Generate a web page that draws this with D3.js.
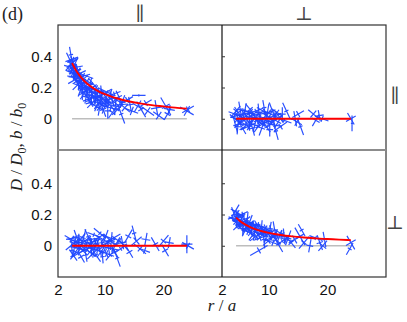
<!DOCTYPE html>
<html><head><meta charset="utf-8">
<script src="https://cdn.jsdelivr.net/npm/d3@7"></script>
<style>html,body{margin:0;padding:0;background:#fff;}svg{display:block;}</style>
</head><body>
<svg id="c" width="407" height="322"></svg>
<script>
// ---- data ----
const xTicks = [2, 10, 20];
const yTicks = [0, 0.2, 0.4];
const colLabels = ["\u2225", "\u22A5"];
const rowLabels = ["\u2225", "\u22A5"];
const fitR  = [4.4, 5, 6, 7, 8, 9, 10, 11, 12, 14, 16, 18, 20, 22, 24];
const fitPP = [0.357,0.314,0.262,0.224,0.196,0.174,0.157,0.143,0.131,0.112,0.098,0.087,0.079,0.071,0.065];
const fitPT = [0,0,0,0,0,0,0,0,0,0,0,0,0,0,0];
const fitTP = [0,0,0,0,0,0,0,0,0,0,0,0,0,0,0];
const fitTT = [0.180,0.160,0.135,0.116,0.102,0.091,0.082,0.075,0.069,0.060,0.053,0.047,0.043,0.039,0.036];
// [r, value, angle(deg), half-length 1, half-length 2]
const ptsPP = [
[4.1,0.37,65,8,3],[4.15,0.33,15,6,2],[4.2,0.41,80,7,2],[4.25,0.35,130,7,4],[4.3,0.30,45,6,3],[4.35,0.38,160,6,3],[4.4,0.34,100,8,2],[4.5,0.29,25,7,3],[4.55,0.36,140,6,4],[4.6,0.32,70,7,2],[4.7,0.27,5,6,3],[4.75,0.34,115,8,3],[4.8,0.30,50,6,2],[4.9,0.25,150,7,3],[5.0,0.31,85,6,4],[5.05,0.28,30,8,2],[5.1,0.33,170,6,3],
[5.2,0.24,60,7,3],[5.25,0.29,120,6,2],[5.3,0.26,10,8,3],[5.4,0.31,75,6,3],[5.45,0.22,135,7,2],[5.5,0.27,40,6,4],[5.6,0.24,95,8,3],[5.7,0.29,155,6,2],[5.75,0.21,20,7,3],[5.8,0.25,65,6,3],[5.9,0.19,110,7,2],[6.0,0.27,165,8,3],
[6.1,0.22,35,6,3],[6.15,0.17,90,7,2],[6.2,0.25,140,6,4],[6.3,0.20,55,8,3],[6.4,0.28,20,9,2],[6.45,0.16,125,6,3],[6.5,0.23,75,7,3],[6.6,0.19,170,6,2],[6.7,0.21,45,7,4],[6.8,0.14,100,6,3],[6.9,0.18,150,8,2],[7.0,0.24,30,6,3],
[7.1,0.15,80,7,3],[7.2,0.20,130,6,2],[7.3,0.12,60,7,3],[7.35,0.17,10,8,3],[7.45,0.22,105,6,2],[7.5,0.13,160,7,4],[7.6,0.18,40,6,3],[7.7,0.15,90,8,2],[7.8,0.10,135,6,3],[7.9,0.19,25,7,3],[8.0,0.14,70,6,2],
[8.1,0.17,120,7,3],[8.2,0.11,165,8,2],[8.3,0.21,50,9,2],[8.4,0.13,95,6,3],[8.5,0.08,30,7,3],[8.6,0.16,145,6,4],[8.7,0.12,75,7,2],[8.8,0.18,15,6,3],[8.9,0.10,115,8,3],[9.0,0.14,55,6,2],
[9.1,0.07,100,7,3],[9.2,0.15,160,6,3],[9.3,0.11,35,8,2],[9.4,0.17,85,6,3],[9.5,0.09,130,7,4],[9.6,0.13,20,6,2],[9.7,0.06,70,7,3],[9.8,0.16,150,8,2],[9.9,0.12,45,6,3],[10.0,0.08,110,7,3],
[10.1,0.14,60,7,2],[10.2,0.10,170,6,3],[10.4,0.17,25,8,2],[10.5,0.05,90,7,3],[10.6,0.12,140,6,4],[10.8,0.09,50,7,2],[10.9,0.15,105,6,3],[11.0,0.07,15,8,3],
[11.2,0.13,75,7,2],[11.3,0.04,125,6,3],[11.5,0.11,40,7,3],[11.6,0.16,160,6,2],[11.8,0.08,95,8,3],[12.0,0.12,30,6,3],[12.2,0.06,135,7,2],[12.4,0.14,65,6,3],[12.6,0.09,175,7,3],[12.8,0.03,70,9,2],[13.0,0.11,110,6,3],
[13.4,0.07,40,6,4],[13.8,0.12,150,6,3],[14.3,0.09,80,7,3],[14.6,0.05,20,6,4],[15.8,0.15,0,6,1],[15.6,0.08,120,6,5],[16.2,0.06,60,8,3],[17.0,0.10,150,6,3],[17.3,0.05,35,7,4],[18.8,0.07,80,7,5],[19.2,0.02,35,6,4],[20.4,0.08,60,9,4],[20.7,0.03,120,6,3],[21.0,0.06,10,5,4],[24.0,0.05,30,7,5],[24.2,0.06,150,6,3]
];
const ptsPT = [
[4.2,0.03,20,6,3],[4.3,-0.04,75,7,2],[4.4,0.05,130,6,3],[4.5,-0.01,40,8,3],[4.6,0.02,165,6,2],[4.7,-0.05,95,7,3],[4.8,0.04,55,6,4],[4.9,0.00,10,8,3],[5.0,-0.03,140,6,2],[5.1,0.06,80,7,3],[5.2,-0.02,30,6,3],[5.35,0.01,115,8,2],[5.5,-0.06,60,6,3],[5.6,0.03,170,7,3],[5.75,-0.01,45,6,2],[5.9,0.05,100,7,4],[6.0,-0.04,15,6,3],[6.15,0.02,135,8,2],[6.3,0.00,70,6,3],[6.4,-0.05,155,7,3],[6.55,0.04,25,6,2],[6.7,-0.02,90,8,3],[6.8,0.06,50,6,3],[6.95,-0.03,120,7,2],[7.1,0.01,5,6,4],[7.2,-0.06,75,7,3],[7.35,0.03,145,6,2],[7.5,0.00,35,8,3],[7.6,-0.04,105,6,3],[7.75,0.05,160,7,2],[7.9,-0.01,60,6,3],[8.0,0.02,20,7,3],[8.15,-0.05,125,6,2],[8.3,0.04,85,8,3],[8.4,-0.02,40,6,3],[8.55,0.03,170,7,2],[8.7,0.00,65,6,4],[8.8,-0.06,110,7,3],[8.95,0.05,30,6,2],[9.1,-0.03,150,8,3],[9.2,0.07,80,7,2],[9.35,-0.01,15,6,3],[9.5,0.02,130,7,3],[9.6,-0.05,55,6,2],[9.75,0.04,100,8,3],[9.9,-0.02,165,6,3],[10.0,0.01,45,7,2],[10.15,-0.07,90,6,3],[10.3,0.03,25,7,3],[10.45,-0.03,140,6,2],[10.6,0.05,70,8,3],[10.75,0.00,115,6,3],[10.9,-0.04,10,7,2],[11.05,0.02,160,6,4],[11.2,-0.08,75,8,2],[11.4,0.04,35,6,3],[11.6,-0.02,120,7,3],[11.8,0.01,55,6,2],[12.0,-0.05,145,7,3],[12.3,0.03,90,6,3],[12.6,-0.01,20,7,2],[13.0,0.05,65,8,2],
[14.5,0.0,80,7,4],[15.0,0.03,150,6,3],[15.4,-0.05,70,8,2],[14.8,-0.02,30,5,4],[17.6,0.03,40,6,4],[18.0,-0.01,120,6,4],[18.6,0.02,80,5,4],[19.1,0.00,20,6,3],[24.0,0.00,60,6,5],[24.2,-0.03,90,7,1]
];
const ptsTP = [
[4.3,0.04,30,7,3],[4.4,-0.03,85,6,2],[4.5,0.01,140,8,3],[4.6,-0.06,55,6,3],[4.7,0.05,170,7,2],[4.8,-0.01,100,6,4],[4.9,0.03,15,7,3],[5.0,-0.04,125,8,2],[5.15,0.06,70,6,3],[5.3,0.00,35,7,3],[5.4,-0.05,150,6,2],[5.55,0.02,90,8,3],[5.7,-0.02,20,6,3],[5.8,0.04,130,7,2],[5.95,-0.07,60,6,3],[6.1,0.01,165,7,4],[6.2,-0.03,45,6,3],[6.35,0.05,105,8,2],[6.5,-0.01,10,6,3],[6.6,0.03,140,7,3],[6.75,-0.06,80,6,2],[6.9,0.02,25,8,3],[7.0,-0.02,155,6,3],[7.15,0.06,65,7,2],[7.3,0.00,115,6,3],[7.4,-0.04,35,7,3],[7.55,0.04,170,6,2],[7.7,-0.01,90,8,3],[7.8,0.02,50,6,4],[7.95,-0.05,135,7,3],[8.1,0.07,20,6,2],[8.2,-0.02,100,8,3],[8.35,0.03,160,6,3],[8.5,-0.06,55,7,2],[8.6,0.01,115,6,3],[8.75,-0.03,15,7,3],[8.9,0.05,145,6,2],[9.0,-0.01,75,8,3],[9.15,0.08,40,7,2],[9.3,-0.04,125,6,3],[9.45,0.02,170,7,3],[9.6,-0.07,85,6,2],[9.7,0.04,30,8,3],[9.85,0.00,140,6,3],[10.0,-0.03,65,7,2],[10.15,0.06,110,6,4],[10.3,-0.05,20,7,3],[10.45,0.02,155,8,2],[10.6,-0.01,80,6,3],[10.75,0.04,45,7,3],[10.9,-0.06,130,6,2],[11.1,0.03,95,8,3],[11.3,-0.02,10,6,3],[11.5,0.05,150,7,2],[11.7,-0.04,60,6,3],[11.9,0.01,120,7,3],[12.1,-0.08,70,8,2],[12.4,0.03,35,6,3],[12.7,-0.02,145,7,2],[13.0,0.02,80,6,4],
[13.3,0.00,50,6,3],[14.0,0.06,120,7,3],[14.2,-0.04,60,6,3],[15.0,0.08,75,7,2],[15.4,0.03,140,6,4],[16.0,-0.02,40,7,3],[17.0,0.04,100,6,4],[16.8,-0.03,20,5,3],[18.6,0.01,60,7,3],[20.0,0.03,130,7,3],[20.3,-0.03,60,6,3],[21.0,0.02,100,5,4],[24.0,0.01,90,8,5],[24.2,0.0,30,6,3]
];
const ptsTT = [
[4.1,0.20,70,7,3],[4.2,0.17,20,6,2],[4.25,0.22,120,7,3],[4.35,0.15,45,6,3],[4.45,0.19,160,8,2],[4.55,0.16,95,6,4],[4.65,0.21,30,7,3],[4.75,0.13,135,6,2],[4.85,0.18,75,7,3],[4.95,0.15,10,6,3],[5.05,0.19,150,8,2],
[5.15,0.12,55,6,3],[5.25,0.16,105,7,3],[5.35,0.14,170,6,2],[5.45,0.18,40,7,4],[5.55,0.11,90,6,3],[5.65,0.15,140,8,2],[5.75,0.13,25,6,3],[5.85,0.17,70,7,3],[5.95,0.10,115,6,2],
[6.05,0.14,165,7,3],[6.15,0.12,50,6,3],[6.3,0.16,95,8,2],[6.4,0.09,15,6,3],[6.5,0.13,140,7,3],[6.6,0.11,65,6,2],[6.7,0.15,110,7,4],[6.8,0.08,35,6,3],[6.9,0.12,160,8,2],
[7.0,0.10,80,6,3],[7.1,0.14,20,7,3],[7.25,0.07,125,6,2],[7.35,0.11,55,7,3],[7.45,0.13,170,6,3],[7.6,0.09,100,8,2],[7.7,0.12,40,6,3],[7.85,0.06,145,7,3],[7.95,0.10,75,6,2],
[8.1,0.13,15,7,3],[8.2,0.08,115,6,4],[8.3,-0.03,150,9,3],[8.35,0.11,60,8,2],[8.5,0.05,160,6,3],[8.6,0.09,30,7,3],[8.75,0.12,95,6,2],[8.9,0.07,135,7,3],[9.0,0.10,50,6,3],[9.15,0.04,85,8,2],[9.3,0.08,170,6,3],[9.45,0.11,25,7,3],[9.6,0.06,110,6,2],[9.75,0.09,65,7,3],[9.9,0.03,140,6,3],
[10.05,0.08,35,8,2],[10.2,0.11,100,6,3],[10.35,0.05,155,7,3],[10.5,0.09,70,6,2],[10.7,0.02,20,7,3],[10.85,0.07,125,6,3],[11.0,0.10,80,8,2],[11.2,0.04,45,6,3],[11.4,0.07,165,7,3],[11.6,0.01,60,8,2],[11.8,0.06,110,6,3],[12.0,0.08,30,7,3],[12.3,0.03,145,6,2],[12.6,0.06,85,7,3],[12.9,0.04,15,6,3],
[13.3,0.05,110,7,3],[13.8,0.02,50,6,3],[14.4,0.04,150,6,4],[15.3,0.06,60,9,4],[15.6,0.10,60,6,2],[16.0,0.02,130,7,3],[17.0,0.0,100,6,3],[18.0,0.05,20,6,2],[18.7,0.02,70,7,3],[19.2,0.0,130,6,4],[19.5,0.04,80,7,3],[24.0,0.02,60,7,5],[23.8,-0.02,120,6,2]
];

// ---- layout ----
const svg = d3.select("#c");
const L = 58, M = 222, R = 386, T = 25, H = 150, B = 277;
const xs = [d3.scaleLinear().domain([2, 30]).range([L, M]),
            d3.scaleLinear().domain([2, 30]).range([M, R])];
const ys = [d3.scaleLinear().domain([-0.2, 0.6]).range([H, T]),
            d3.scaleLinear().domain([-0.2, 0.6]).range([B, H + 2])];

const panels = [
  {row:0, col:0, pts:ptsPP, fit:fitPP},
  {row:0, col:1, pts:ptsPT, fit:fitPT},
  {row:1, col:0, pts:ptsTP, fit:fitTP},
  {row:1, col:1, pts:ptsTT, fit:fitTT}
];

const blue = "#2048ff";
const k = 1.12;
panels.forEach(p => {
  const x = xs[p.col], y = ys[p.row];
  const g = svg.append("g");
  g.append("line").attr("x1", x(4.4)).attr("x2", x(24)).attr("y1", y(0)).attr("y2", y(0))
    .attr("stroke", "#bdbdbd").attr("stroke-width", 1.6);
  g.selectAll("path.m").data(p.pts).join("path").attr("class", "m")
    .attr("d", d => {
      const cx = x(d[0]), cy = y(d[1]);
      const a = d[2] * Math.PI / 180, b = a + Math.PI / 2;
      const h1 = d[3] * k, h2 = d[4] * k;
      const c1 = Math.cos(a), s1 = Math.sin(a), c2 = Math.cos(b), s2 = Math.sin(b);
      return `M${cx - h1*c1},${cy - h1*s1}L${cx + h1*c1},${cy + h1*s1}` +
             `M${cx - h2*c2},${cy - h2*s2}L${cx + h2*c2},${cy + h2*s2}`;
    })
    .attr("stroke", blue).attr("stroke-width", 1.2).attr("stroke-opacity", 0.95).attr("fill", "none");
  const line = d3.line().x((d, i) => x(fitR[i])).y(d => y(d)).curve(d3.curveMonotoneX);
  g.append("path").attr("d", line(p.fit)).attr("fill", "none")
    .attr("stroke", "#ff0000").attr("stroke-width", 1.9);
});

// frame
svg.append("rect").attr("x", L).attr("y", T).attr("width", R - L).attr("height", B - T)
  .attr("fill", "none").attr("stroke", "#333").attr("stroke-width", 1.2);
svg.append("line").attr("x1", L).attr("x2", R).attr("y1", H).attr("y2", H)
  .attr("stroke", "#8c8c8c").attr("stroke-width", 1.8);
svg.append("line").attr("x1", M).attr("x2", M).attr("y1", T).attr("y2", B)
  .attr("stroke", "#111").attr("stroke-width", 1.2);

// axes
const tickFont = "'Liberation Sans', Arial, sans-serif";
const fmt = d => d === 0 ? "0" : d3.format(".1f")(d);
[0, 1].forEach(r => {
  const ax = svg.append("g").attr("transform", `translate(${L},0)`)
    .call(d3.axisLeft(ys[r]).tickValues(yTicks).tickFormat(fmt).tickSize(0).tickPadding(6));
  ax.select(".domain").remove();
  ax.selectAll("text").attr("font-family", tickFont).attr("font-size", 15).attr("fill", "#111");
  const ax2 = svg.append("g").attr("transform", `translate(${M},0)`)
    .call(d3.axisRight(ys[r]).tickValues(yTicks).tickFormat("").tickSize(3));
  ax2.select(".domain").remove();
  ax2.selectAll("line").attr("stroke", "#333");
});
[0, 1].forEach(c => {
  const ax = svg.append("g").attr("transform", `translate(0,${B})`)
    .call(d3.axisBottom(xs[c]).tickValues(xTicks).tickFormat(d3.format("d")).tickSize(0).tickPadding(7));
  ax.select(".domain").remove();
  ax.selectAll("text").attr("font-family", tickFont).attr("font-size", 15).attr("fill", "#111");
});

// labels
const serif = "'DejaVu Serif', 'Liberation Serif', serif";
svg.append("text").attr("x", 2).attr("y", 20).attr("font-family", "'Liberation Serif', serif")
  .attr("font-size", 18).attr("fill", "#222").text("(d)");
colLabels.forEach((t, i) => {
  svg.append("text").attr("x", (xs[i].range()[0] + xs[i].range()[1]) / 2).attr("y", 20)
    .attr("text-anchor", "middle").attr("font-family", serif).attr("font-size", 19)
    .attr("fill", "#444").text(t);
});
rowLabels.forEach((t, i) => {
  svg.append("text").attr("x", 395).attr("y", ys[i](0.15) + 7)
    .attr("text-anchor", "middle").attr("font-family", serif).attr("font-size", 19)
    .attr("fill", "#444").text(t);
});
const yl = svg.append("text").attr("transform", "translate(22,147) rotate(-90)")
  .attr("text-anchor", "middle").attr("font-family", "'Liberation Serif', serif")
  .attr("font-size", 17).attr("fill", "#222");
yl.append("tspan").attr("font-style", "italic").text("D");
yl.append("tspan").text(" / ");
yl.append("tspan").attr("font-style", "italic").text("D");
yl.append("tspan").attr("font-size", 12).attr("dy", 4).text("0");
yl.append("tspan").attr("dy", -4).text(", ");
yl.append("tspan").attr("font-style", "italic").text("b");
yl.append("tspan").text(" / ");
yl.append("tspan").attr("font-style", "italic").text("b");
yl.append("tspan").attr("font-size", 12).attr("dy", 4).text("0");
const xl = svg.append("text").attr("x", M).attr("y", 311).attr("text-anchor", "middle")
  .attr("font-family", "'Liberation Serif', serif").attr("font-size", 17).attr("fill", "#222");
xl.append("tspan").attr("font-style", "italic").text("r");
xl.append("tspan").text(" / ");
xl.append("tspan").attr("font-style", "italic").text("a");
</script>
</body></html>
